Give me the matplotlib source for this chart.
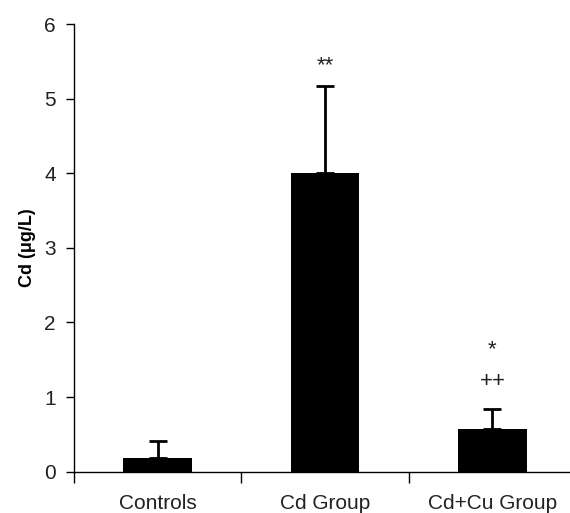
import matplotlib.pyplot as plt
from matplotlib.ticker import FixedLocator, NullFormatter

plt.rcParams['font.family'] = ['Liberation Sans', 'DejaVu Sans']

groups = ["Controls", "Cd Group", "Cd+Cu Group"]
means = [0.19, 4.0, 0.57]
sd_upper = [0.22, 1.17, 0.27]
# significance marks: (group index, y value, text)
marks = [(1, 5.44, "**"), (2, 1.64, "*"), (2, 1.21, "++")]

fig = plt.figure(figsize=(5.70, 5.13), dpi=100)
ax = fig.add_axes([0.1298, 0.0805, 0.881, 0.8727])

pos = [i + 0.5 for i in range(len(groups))]
ax.bar(pos, means, width=0.41, color='black', zorder=2)
ax.errorbar(pos, means, yerr=[[0] * len(means), sd_upper], fmt='none',
            ecolor='black', elinewidth=2, capsize=6.5, capthick=2, zorder=1)

for i, y, txt in marks:
    ax.text(pos[i], y, txt, ha='center', va='center', fontsize=16, color='#222222')

ax.set_xlim(0, 3)
ax.set_ylim(0, 6)
ax.set_yticks(range(7))
ax.tick_params(axis='y', direction='out', length=6, width=1, labelsize=15,
               labelcolor='#222222', pad=7)

ax.xaxis.set_major_locator(FixedLocator([0, 1, 2, 3]))
ax.xaxis.set_major_formatter(NullFormatter())
ax.xaxis.set_minor_locator(FixedLocator(pos))
ax.set_xticklabels(groups, minor=True)
ax.tick_params(axis='x', which='major', direction='out', length=8, width=1)
ax.tick_params(axis='x', which='minor', length=0, labelsize=15,
               labelcolor='#222222', pad=16)

for s in ['top', 'right']:
    ax.spines[s].set_visible(False)
ax.spines['left'].set_linewidth(1)
ax.spines['bottom'].set_linewidth(1)

ax.set_ylabel("Cd (μg/L)", fontsize=13, fontweight='bold', labelpad=6)

fig.savefig("out.png", dpi=100)
